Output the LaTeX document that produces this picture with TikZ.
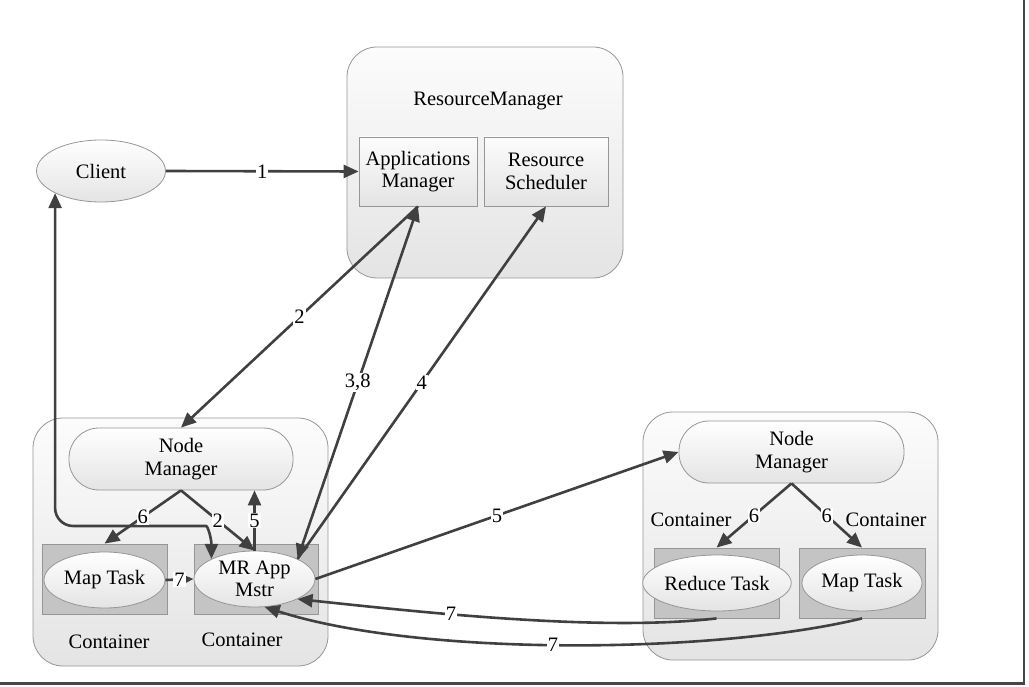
\documentclass[tikz,border=0pt]{standalone}
\usepackage{fontspec}
\setmainfont{Liberation Serif}
\usetikzlibrary{arrows.meta,shapes.geometric}
\definecolor{wiregray}{RGB}{64,64,64}
\definecolor{rimgray}{RGB}{150,150,150}
\definecolor{slotgray}{RGB}{196,196,196}
\definecolor{panellight}{RGB}{252,252,252}
\definecolor{paneldark}{RGB}{228,228,228}
\definecolor{framegray}{RGB}{70,70,70}
\tikzset{hostbox/.style={draw=rimgray, rounded corners=30pt, top color=panellight,
             bottom color=paneldark, line width=0.8pt},
         svcbox/.style={draw=rimgray, top color=panellight, bottom color=paneldark,
             minimum height=69pt, align=center, line width=0.8pt},
         pill/.style={draw=rimgray, rounded corners=30pt, top color=white,
             bottom color=paneldark, minimum width=224pt, minimum height=62pt,
             align=center, line width=0.8pt},
         slotbox/.style={draw=rimgray, fill=slotgray, minimum width=125pt,
             minimum height=70pt, line width=0.8pt},
         task/.style={ellipse, draw=rimgray, top color=white, bottom color=paneldark,
             minimum width=121pt, minimum height=56pt, inner sep=0pt, align=center,
             line width=0.8pt},
         wire/.style={draw=wiregray, line width=2.6pt, -{Triangle[length=15pt,width=13pt]}},
         biwire/.style={wire, {Triangle[length=15pt,width=13pt]}-{Triangle[length=15pt,width=13pt]}},
         tag/.style={fill=white, inner sep=1pt}}

\begin{document}
\begin{tikzpicture}[x=1pt, y=-1pt, font=\fontsize{20.5}{22.5}\selectfont]
  \useasboundingbox (0,0) rectangle (1029,687);
  \draw[framegray, line width=2.5pt] (0,683.5) -- (1024,683.5) -- (1024,0);

  \node[hostbox, minimum width=276pt, minimum height=231pt] (rm) at (485,162.5) {};
  \node (rmtitle) at (488,101) {ResourceManager};
  \node[svcbox, minimum width=118pt] (am) at (418,171.5) {Applications\\Manager};
  \node[svcbox, minimum width=124pt] (rs) at (546,171.5) {Resource\\Scheduler};

  \node[task, minimum width=129pt, minimum height=62pt] (client) at (101,171) {Client};

  \node[hostbox, minimum width=295pt, minimum height=248pt] (hostL) at (180.5,542) {};
  \node[pill] (nmL) at (181,459) {Node\\Manager};
  \node[slotbox] (slotMapL) at (104.5,579) {};
  \node[task] (mapL) at (104.5,580) {Map Task};
  \node[slotbox, minimum width=124pt] (slotApp) at (256,579) {};
  \node[task] (mrapp) at (254.5,579) {MR App\\Mstr};
  \node (contMapL) at (109,642) {Container};
  \node (contApp) at (242,640) {Container};

  \node[hostbox, minimum width=295pt, minimum height=248pt] (hostR) at (790.5,536) {};
  \node[pill, minimum width=225pt] (nmR) at (791.5,452) {Node\\Manager};
  \node[slotbox] (slotRed) at (716.5,583) {};
  \node[task, minimum width=120pt] (redR) at (717,583) {Reduce Task};
  \node[slotbox, minimum width=126pt] (slotMapR) at (862,583) {};
  \node[task, minimum width=120pt] (mapR) at (862,583) {Map Task};
  \node (contRed) at (691,520) {Container};
  \node (contMapR) at (886,520) {Container};

  \coordinate (loopturn) at (188,526);

  \draw[wire] (client.east) -- node[tag] {1} (am.west);
  \draw[wire] (am.south) -- node[tag] {2} (nmL.north);
  \draw[biwire] (mrapp.north east) -- node[tag] {3,8} (am.south);
  \draw[wire] (mrapp.north east) -- node[tag] {4} (rs.south);
  \draw[biwire, rounded corners=18pt] (client.south west) -- (client.south west |- loopturn)
    -- (loopturn) .. controls +(20,0) and +(0,-20) .. (mrapp.north west);
  \draw[wire] (nmL.south) -- node[tag] {6} (slotMapL.north);
  \draw[wire] (nmL.south) -- node[tag] {2} (mrapp.north);
  \draw[wire] (mrapp.north) -- node[tag] {5} (mrapp.north |- nmL.south);
  \draw[wire] (mapL.east) -- node[tag] {7} (mrapp.west);
  \draw[wire] (mrapp.east) -- node[tag] {5} (nmR.west);
  \draw[wire] (nmR.south) -- node[tag] {6} (slotRed.north);
  \draw[wire] (nmR.south) -- node[tag] {6} (slotMapR.north);
  \draw[wire] (slotRed.south) .. controls (600,632) and (420,612) .. node[tag, pos=0.63] {7} (mrapp.south east);
  \draw[wire] (slotMapR.south) .. controls (715,654) and (420,657) .. node[tag, pos=0.52] {7} (mrapp.-70);
\end{tikzpicture}
\end{document}
